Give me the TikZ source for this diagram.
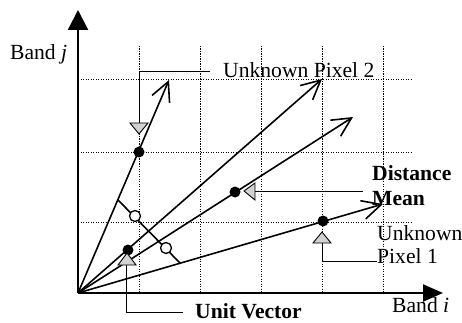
\documentclass[tikz,border=0pt]{standalone}
\usepackage{fontspec}
\setmainfont{Liberation Serif}
\usetikzlibrary{arrows.meta}
\begin{document}
\begin{tikzpicture}[x=1pt,y=-1pt,
  gridline/.style={line width=1pt, dash pattern=on 1.1pt off 1.4pt},
  axisline/.style={line width=2.2pt},
  vec/.style={line width=1.6pt, -{Straight Barb[length=19pt,width=19pt,line width=1.6pt]}},
  perpline/.style={line width=1.6pt},
  leader/.style={line width=1pt},
  dot/.style={circle, fill=black, inner sep=0pt, minimum size=11pt},
  ring/.style={circle, draw, line width=1.3pt, fill=white, inner sep=0pt, minimum size=11pt},
  tri/.style={draw, line width=0.9pt, fill=gray!35},
  lbl/.style={font=\fontsize{21.6}{25}\selectfont, inner sep=0pt, anchor=base west}
]
\useasboundingbox (0,0) rectangle (462,323);

% grid
\foreach \gx in {139,200,261,322,383}
  \draw[gridline] (\gx,46) -- (\gx,293);
\foreach \gy in {80,152,222}
  \draw[gridline] (78,\gy) -- (412,\gy);

% axes
\coordinate (O) at (78,293);
\coordinate (ytip) at (78,10);
\coordinate (xtip) at (443,293);
\draw[axisline, -{Triangle[length=20pt,width=20pt]}] (O) -- (ytip);
\draw[axisline, -{Triangle[length=20pt,width=17pt]}] (O) -- (xtip);

% vectors
\coordinate (t1) at (169,80);
\coordinate (t2) at (322,79);
\coordinate (t3) at (353,117);
\coordinate (t4) at (383,204);
\draw[vec] (O) -- (t1);
\draw[vec] (O) -- (t2);
\draw[vec] (O) -- (t3);
\draw[vec] (O) -- (t4);

% perpendicular segment and distance circles
\coordinate (pa) at (118,200);
\coordinate (pb) at (180,263);
\draw[perpline] (pa) -- (pb);
\node[ring] (c1) at (135,216) {};
\node[ring] (c2) at (166,248) {};

% dots
\node[dot] (px2) at (139,152) {};
\node[dot] (mean) at (235,192) {};
\node[dot] (px1) at (323,221) {};
\node[dot] (unit) at (128,250) {};

% triangle markers
\filldraw[tri] (130,123) -- (148,123) -- (139,134) -- cycle;
\filldraw[tri] (244,191) -- (255,183) -- (255,200) -- cycle;
\filldraw[tri] (322,232) -- (331,243) -- (313,243) -- cycle;
\filldraw[tri] (127,253) -- (136,265) -- (118,265) -- cycle;

% labels
\node[lbl] (bandj) at (10,60) {Band \textit{j}};
\node[lbl] (up2) at (223,78) {Unknown Pixel 2};
\node[lbl, font=\fontsize{21.6}{25}\selectfont\bfseries] (dist) at (372,180) {Distance};
\node[lbl, font=\fontsize{21.6}{25}\selectfont\bfseries] (meanlbl) at (372,205) {Mean};
\node[lbl] (unk1) at (377,240) {Unknown};
\node[lbl] (pix1) at (377,263) {Pixel 1};
\node[lbl] (bandi) at (392,312) {Band \textit{i}};
\node[lbl, font=\fontsize{21.6}{25}\selectfont\bfseries] (unitlbl) at (195,318) {Unit Vector};

% leaders
\coordinate (l2a) at (139,123);
\coordinate (l2b) at (139,72);
\coordinate (l2c) at (210,72);
\draw[leader] (l2a) -- (l2b) -- (l2c);
\coordinate (lma) at (255,191);
\coordinate (lmb) at (363,191);
\draw[leader] (lma) -- (lmb);
\coordinate (l1a) at (322,243);
\coordinate (l1b) at (322,261);
\coordinate (l1c) at (377,261);
\draw[leader] (l1a) -- (l1b) -- (l1c);
\coordinate (lua) at (126,265);
\coordinate (lub) at (126,312);
\coordinate (luc) at (183,312);
\draw[leader] (lua) -- (lub) -- (luc);
\end{tikzpicture}
\end{document}
